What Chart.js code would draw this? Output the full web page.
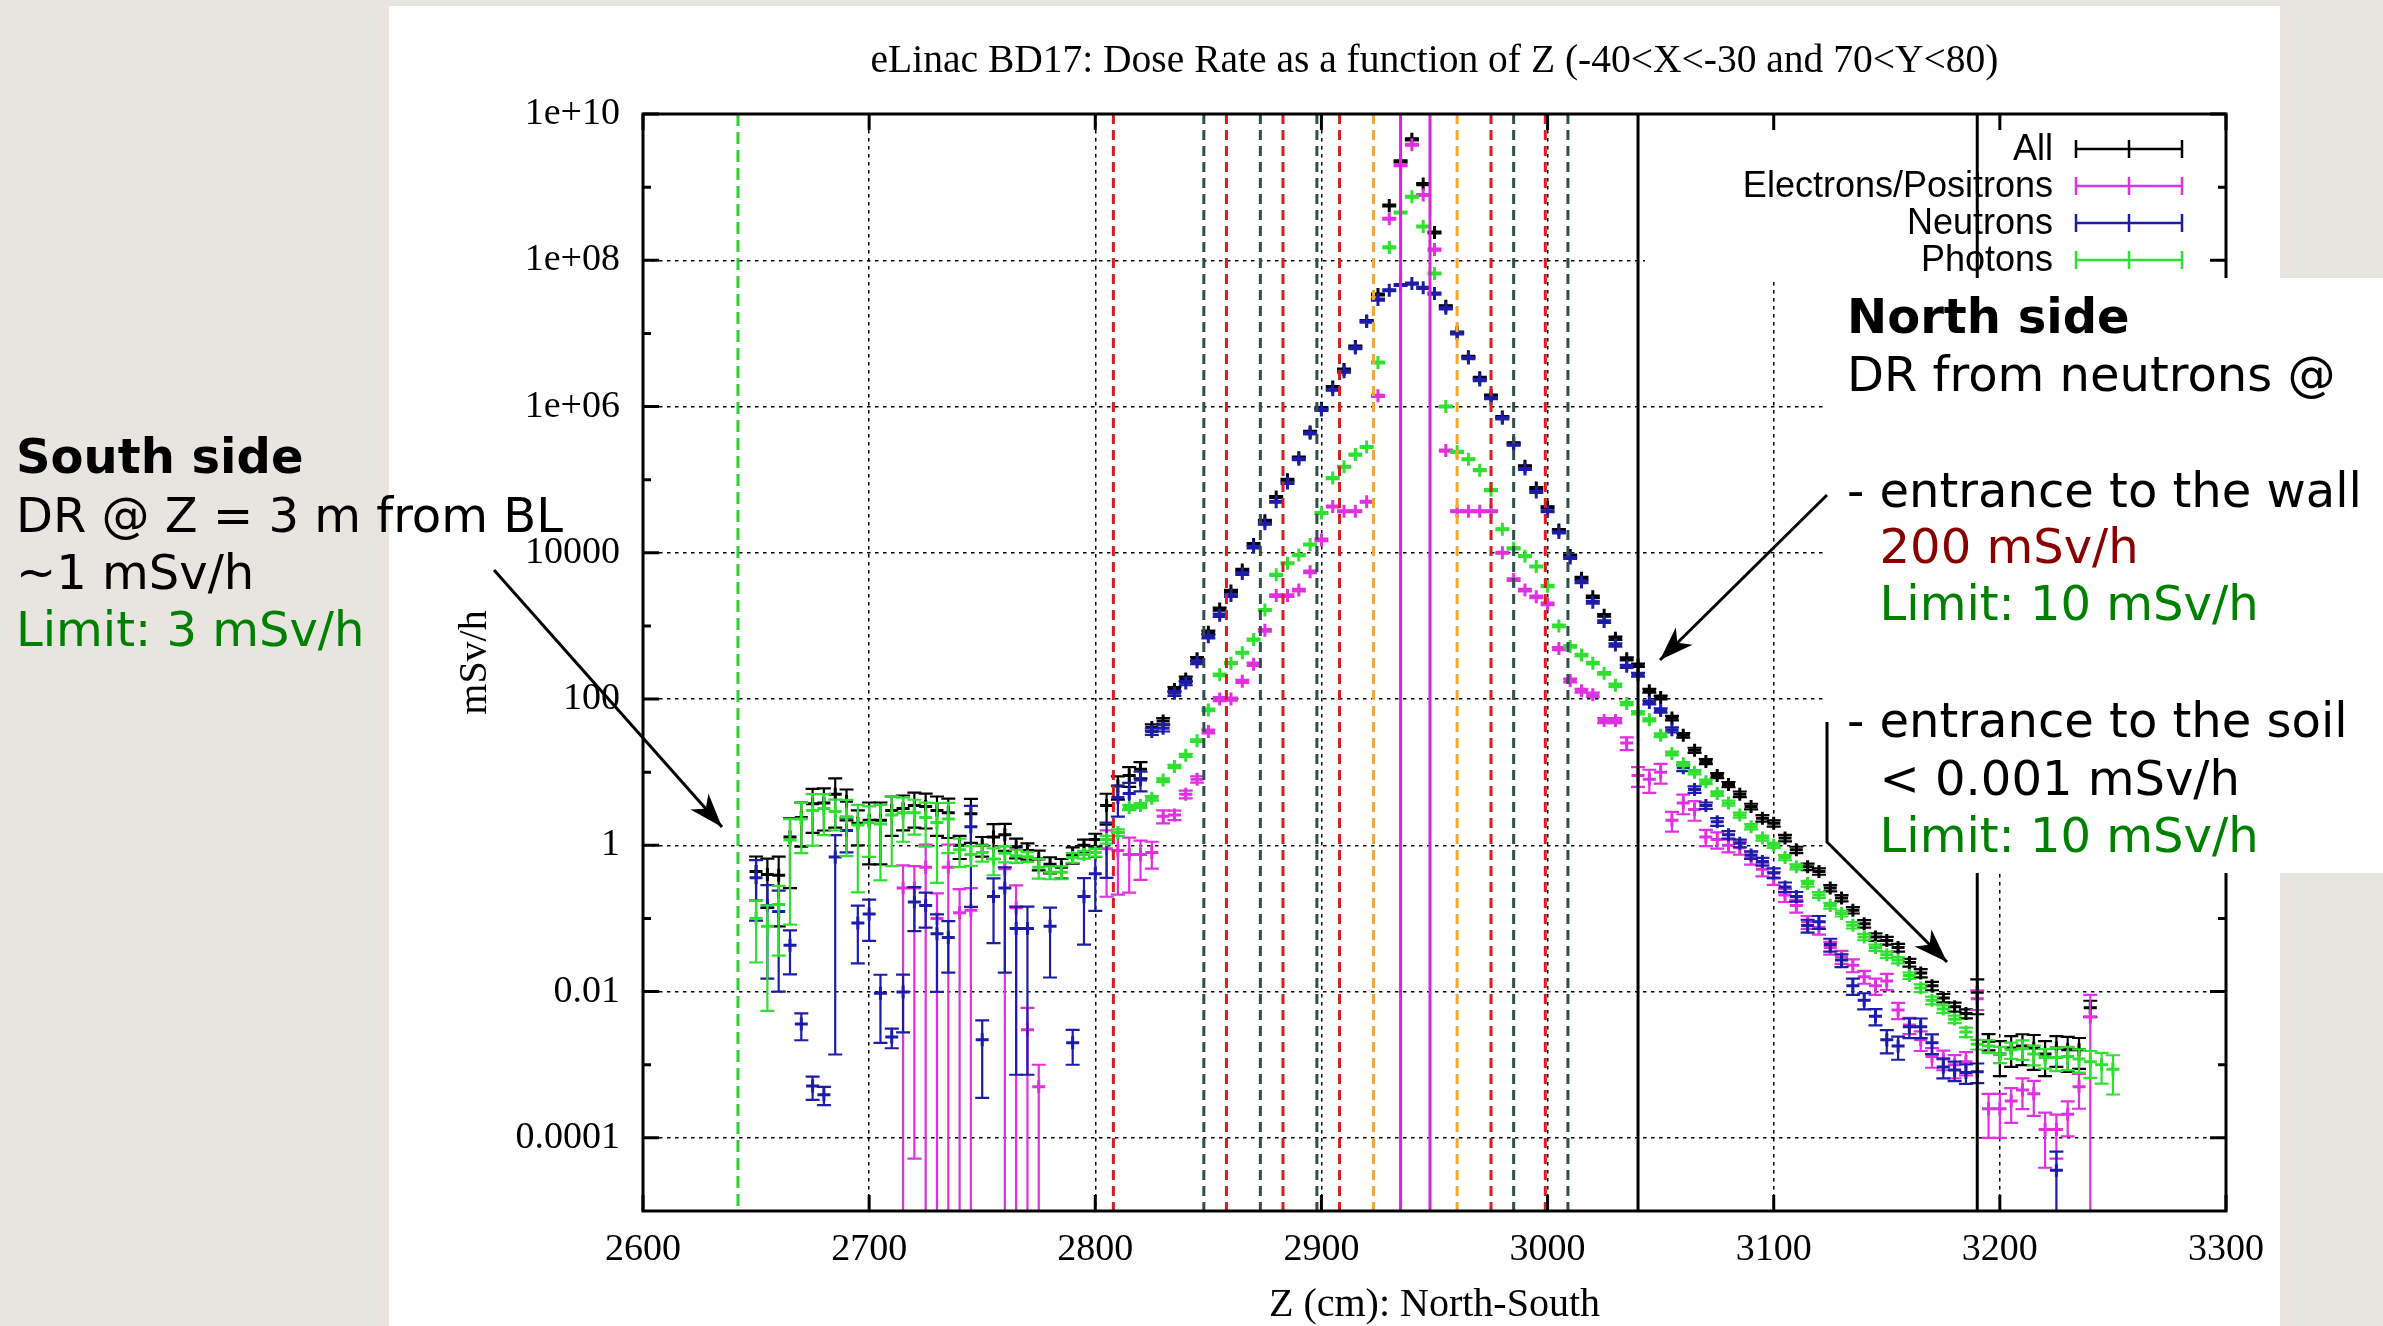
<!DOCTYPE html>
<html lang="en">
<head>
<meta charset="UTF-8">
<title>eLinac BD17 dose rate vs Z</title>
<script src="https://cdn.jsdelivr.net/npm/chart.js"></script>
<style>
  html, body { margin: 0; padding: 0; background: #e8e4df; }
  canvas { display: block; }
</style>
</head>
<body>
<canvas id="chartCanvas" width="2383" height="1326"></canvas>
<script>
// Z bin centres (cm), 5 cm bins
const zBins = [
  2650, 2655, 2660, 2665, 2670, 2675, 2680, 2685, 2690, 2695,
  2700, 2705, 2710, 2715, 2720, 2725, 2730, 2735, 2740, 2745,
  2750, 2755, 2760, 2765, 2770, 2775, 2780, 2785, 2790, 2795,
  2800, 2805, 2810, 2815, 2820, 2825, 2830, 2835, 2840, 2845,
  2850, 2855, 2860, 2865, 2870, 2875, 2880, 2885, 2890, 2895,
  2900, 2905, 2910, 2915, 2920, 2925, 2930, 2935, 2940, 2945,
  2950, 2955, 2960, 2965, 2970, 2975, 2980, 2985, 2990, 2995,
  3000, 3005, 3010, 3015, 3020, 3025, 3030, 3035, 3040, 3045,
  3050, 3055, 3060, 3065, 3070, 3075, 3080, 3085, 3090, 3095,
  3100, 3105, 3110, 3115, 3120, 3125, 3130, 3135, 3140, 3145,
  3150, 3155, 3160, 3165, 3170, 3175, 3180, 3185, 3190, 3195,
  3200, 3205, 3210, 3215, 3220, 3225, 3230, 3235, 3240, 3245,
  3250
];

// dose rate (mSv/h) and relative error per bin
const allDose = [
  0.44, 0.40, 0.39, 1.3, 2.4, 3.7, 3.8, 5.0, 4.0, 2.0,
  2.2, 2.2, 3.0, 3.2, 3.5, 3.4, 3.0, 2.8, 1.0, 2.7,
  1.0, 1.3, 1.4, 0.95, 0.85, 0.65, 0.55, 0.5, 0.75, 1.0,
  1.2, 3.5, 6.5, 9, 11, 41, 50, 135, 188, 355,
  820, 1700, 3000, 5800, 1.3e4, 2.75e4, 5.8e4, 1.0e5, 2.0e5, 4.5e5,
  9.5e5, 1.85e6, 3.2e6, 6.6e6, 1.48e7, 3.4e7, 5.6e8, 2.25e9, 4.5e9, 1.1e9,
  2.4e8, 2.35e7, 1.03e7, 4.8e6, 2.47e6, 1.41e6, 7.2e5, 3.15e5, 1.52e5, 7.7e4,
  4.2e4, 2.05e4, 9.2e3, 4.5e3, 2.5e3, 1.4e3, 680, 355, 290, 130,
  105, 55, 32, 20, 14, 9, 6.8, 5.0, 3.4, 2.35,
  2.0, 1.26, 0.87, 0.51, 0.44, 0.26, 0.19, 0.13, 0.085, 0.056,
  0.05, 0.04, 0.025, 0.018, 0.012, 0.0082, 0.0062, 0.005, 0.0098, 0.0021,
  0.0014, 0.0017, 0.0018, 0.0017, 0.0014, 0.0017, 0.0016, 0.0016, 0.006, null,
  null
];
const allErr = [
  0.6, 0.65, 0.8, 0.8, 0.6, 0.6, 0.58, 0.65, 0.45, 0.5,
  0.75, 0.75, 0.55, 0.5, 0.5, 0.5, 0.55, 0.55, 0.35, 0.6,
  0.3, 0.5, 0.4, 0.3, 0.25, 0.3, 0.25, 0.3, 0.25, 0.2,
  0.2, 0.45, 0.35, 0.3, 0.25, 0.1, 0.1, 0.08, 0.08, 0.06,
  0.05, 0.05, 0.04, 0.04, 0.04, 0.03, 0.03, 0.03, 0.03, 0.03,
  0.03, 0.03, 0.03, 0.03, 0.03, 0.03, 0.03, 0.03, 0.03, 0.03,
  0.03, 0.03, 0.03, 0.03, 0.03, 0.03, 0.03, 0.03, 0.03, 0.03,
  0.03, 0.03, 0.03, 0.04, 0.04, 0.04, 0.05, 0.05, 0.05, 0.06,
  0.06, 0.07, 0.07, 0.08, 0.08, 0.08, 0.08, 0.09, 0.09, 0.1,
  0.1, 0.1, 0.1, 0.1, 0.1, 0.1, 0.1, 0.1, 0.12, 0.12,
  0.12, 0.12, 0.12, 0.13, 0.13, 0.13, 0.14, 0.14, 0.5, 0.25,
  0.5, 0.45, 0.45, 0.5, 0.5, 0.45, 0.5, 0.45, 0.25, null,
  null
];

const eleDose = [
  null, null, null, null, null, null, null, null, null, null,
  null, null, null, 0.26, 0.26, 0.5, 0.1, 0.5, 0.12, 0.13,
  null, null, 0.48, 0.14, 0.003, 5e-4, null, null, null, null,
  null, 0.9, 0.85, 0.75, 0.75, 0.8, 2.5, 2.6, 5.0, 8.0,
  36, 100, 100, 175, 300, 870, 2600, 2600, 3100, 5500,
  1.5e4, 4.3e4, 3.7e4, 3.7e4, 5.0e4, 1.4e6, 3.7e8, 2.0e9, 3.8e9, 7.8e8,
  1.4e8, 2.5e5, 3.7e4, 3.7e4, 3.7e4, 3.7e4, 1.0e4, 4300, 3100, 2500,
  2000, 490, 180, 130, 115, 51, 51, 25, 9, 8,
  10, 2.2, 3.8, 3.1, 1.3, 1.2, 1.0, 0.93, 0.68, 0.47,
  0.36, 0.21, 0.15, 0.09, 0.075, 0.04, 0.03, 0.023, 0.016, 0.012,
  0.014, 0.0056, 0.0035, 0.0022, 0.0013, 0.0012, 0.001, 0.0011, 0.008, 2.5e-4,
  2.5e-4, 3.2e-4, 4.5e-4, 4e-4, 1.3e-4, 1.3e-4, 2.1e-4, 5e-4, 0.0045, null,
  null
];
const eleErr = [
  null, null, null, null, null, null, null, null, null, null,
  null, null, null, 1.05, 0.9998, 1.05, 1.2, 1.05, 1.1, 1.0,
  null, null, 1.02, 1.02, 1.0, 1.0, null, null, null, null,
  null, 0.78, 0.75, 0.7, 0.55, 0.4, 0.2, 0.15, 0.12, 0.1,
  0.06, 0.06, 0.05, 0.05, 0.05, 0.04, 0.04, 0.04, 0.04, 0.04,
  0.04, 0.03, 0.03, 0.03, 0.03, 0.03, 0.03, 0.03, 0.03, 0.03,
  0.03, 0.03, 0.03, 0.03, 0.03, 0.03, 0.03, 0.04, 0.04, 0.04,
  0.04, 0.05, 0.06, 0.06, 0.07, 0.08, 0.08, 0.2, 0.3, 0.35,
  0.3, 0.3, 0.3, 0.3, 0.25, 0.25, 0.2, 0.2, 0.2, 0.2,
  0.2, 0.2, 0.2, 0.2, 0.2, 0.2, 0.2, 0.2, 0.2, 0.25,
  0.25, 0.25, 0.25, 0.3, 0.3, 0.3, 0.35, 0.35, 0.3, 0.6,
  0.6, 0.5, 0.45, 0.5, 0.7, 0.6, 0.5, 0.5, 1.0, null,
  null
];

const neuDose = [
  0.36, 0.15, 0.125, 0.043, 0.0036, 5.1e-4, 3.9e-4, 0.69, 1.6, 0.087,
  0.115, 0.0095, 0.0024, 0.0099, 0.168, 0.15, 0.062, 0.055, null, 1.8,
  0.0022, 0.2, 0.26, 0.073, 0.073, null, 0.078, null, 0.002, 0.2,
  0.41, 1.2, 4.5, 5.1, 7.8, 36, 40, 120, 166, 320,
  710, 1400, 2600, 5200, 1.2e4, 2.5e4, 5.0e4, 9.0e4, 1.9e5, 4.3e5,
  9.0e5, 1.7e6, 3.0e6, 6.3e6, 1.45e7, 2.9e7, 3.9e7, 4.6e7, 4.8e7, 4.2e7,
  3.5e7, 2.2e7, 1.0e7, 4.6e6, 2.3e6, 1.3e6, 6.9e5, 3.0e5, 1.4e5, 6.8e4,
  3.7e4, 1.9e4, 8.5e3, 4.0e3, 2.1e3, 1150, 550, 280, 215, 90,
  70, 38, 11.5, 5.8, 3.5, 2.1, 1.4, 1.07, 0.74, 0.6,
  0.42, 0.27, 0.2, 0.08, 0.09, 0.044, 0.027, 0.012, 0.0076, 0.0046,
  0.0022, 0.0018, 0.0033, 0.0033, 0.002, 9.3e-4, 8.5e-4, 7.8e-4, 8e-4, null,
  null, null, null, null, null, 3.6e-5, null, null, null, null,
  null
];
const neuErr = [
  0.74, 0.9, 0.92, 0.6, 0.4, 0.35, 0.28, 0.998, 0.5, 0.72,
  0.57, 0.79, 0.3, 0.72, 0.6, 0.5, 0.84, 0.67, null, 0.92,
  0.84, 0.77, 0.93, 0.99, 0.99, null, 0.8, null, 0.5, 0.78,
  0.69, 0.7, 0.45, 0.4, 0.3, 0.1, 0.1, 0.08, 0.07, 0.06,
  0.05, 0.05, 0.04, 0.04, 0.04, 0.03, 0.03, 0.03, 0.03, 0.03,
  0.03, 0.03, 0.03, 0.03, 0.03, 0.03, 0.03, 0.03, 0.03, 0.03,
  0.03, 0.03, 0.03, 0.03, 0.03, 0.03, 0.03, 0.03, 0.03, 0.03,
  0.03, 0.03, 0.03, 0.04, 0.04, 0.04, 0.05, 0.05, 0.06, 0.06,
  0.07, 0.08, 0.1, 0.1, 0.1, 0.12, 0.12, 0.12, 0.12, 0.12,
  0.15, 0.15, 0.15, 0.2, 0.2, 0.2, 0.2, 0.25, 0.25, 0.25,
  0.35, 0.35, 0.3, 0.3, 0.3, 0.3, 0.3, 0.3, 0.3, null,
  null, null, null, null, null, 0.8, null, null, null, null,
  null
];

const phoDose = [
  0.1, 0.078, 0.155, 1.18, 2.3, 3.0, 3.2, 2.9, 2.45, 1.9,
  2.05, 1.95, 2.6, 2.8, 2.8, 2.4, 2.05, 2.3, 0.87, 0.75,
  0.8, 0.65, 0.78, 0.72, 0.7, 0.5, 0.43, 0.43, 0.68, 0.75,
  0.8, 1.2, 1.5, 3.3, 3.5, 4.4, 7.8, 12, 17, 27,
  71, 215, 310, 430, 650, 1650, 5000, 7200, 9300, 1.3e4,
  3.5e4, 1.05e5, 1.5e5, 2.2e5, 2.8e5, 4.0e6, 1.5e8, 4.5e8, 7.4e8, 2.9e8,
  6.6e7, 1.0e6, 2.4e5, 1.9e5, 1.35e5, 7.2e4, 2.1e4, 1.15e4, 9.0e3, 6.5e3,
  3500, 1000, 525, 400, 310, 225, 155, 87, 65, 52,
  32, 18, 13, 10, 7.4, 5.1, 3.8, 2.6, 1.8, 1.26,
  1.0, 0.68, 0.51, 0.30, 0.21, 0.15, 0.117, 0.081, 0.056, 0.04,
  0.032, 0.027, 0.0166, 0.0112, 0.0076, 0.0058, 0.0042, 0.0028, 0.0019, 0.0018,
  0.0014, 0.0016, 0.00166, 0.0014, 0.00126, 0.00126, 0.0013, 0.0012, 0.0011, 0.001,
  0.00087
];
const phoErr = [
  0.75, 0.93, 0.8, 0.93, 0.66, 0.67, 0.57, 0.45, 0.71, 0.88,
  0.66, 0.83, 0.8, 0.6, 0.5, 0.6, 0.85, 0.66, 0.42, 0.3,
  0.25, 0.4, 0.25, 0.2, 0.15, 0.3, 0.2, 0.2, 0.15, 0.12,
  0.12, 0.12, 0.1, 0.08, 0.08, 0.07, 0.06, 0.05, 0.05, 0.04,
  0.04, 0.04, 0.03, 0.03, 0.03, 0.03, 0.03, 0.03, 0.03, 0.03,
  0.03, 0.03, 0.03, 0.03, 0.03, 0.03, 0.03, 0.03, 0.03, 0.03,
  0.03, 0.03, 0.03, 0.03, 0.03, 0.03, 0.03, 0.03, 0.03, 0.03,
  0.03, 0.04, 0.04, 0.04, 0.04, 0.04, 0.05, 0.05, 0.05, 0.05,
  0.06, 0.06, 0.06, 0.07, 0.07, 0.07, 0.08, 0.08, 0.08, 0.08,
  0.08, 0.08, 0.08, 0.09, 0.09, 0.09, 0.09, 0.1, 0.1, 0.1,
  0.1, 0.1, 0.1, 0.12, 0.12, 0.12, 0.12, 0.15, 0.15, 0.2,
  0.25, 0.25, 0.3, 0.3, 0.3, 0.35, 0.35, 0.35, 0.4, 0.45,
  0.55
];

// axis ticks
const yTickValues = [1e10, 1e8, 1e6, 1e4, 1e2, 1, 1e-2, 1e-4];
const yTickLabels = ['1e+10', '1e+08', '1e+06', '10000', '100', '1', '0.01', '0.0001'];
const yMinorTicks = [1e9, 1e7, 1e5, 1e3, 1e1, 1e-1, 1e-3];

// region boundaries along Z (cm)
const greenLineZ = [2642];
const redLineZ = [2808, 2858, 2883, 2908, 2975, 2999];
const slateLineZ = [2848, 2873, 2898, 2985, 3009];
const orangeLineZ = [2923, 2960];
const magentaLineZ = [2935, 2948];
const blackLineZ = [3040, 3190];

const seriesLabels = ['All', 'Electrons/Positrons', 'Neutrons', 'Photons'];
const seriesColors = ['#000000', '#e030e0', '#1c1ca8', '#30e030'];

const serif = 'Liberation Serif';
const noteFont = '"DejaVu Sans", sans-serif';

function points(values, errs) {
  return zBins.map((z, i) => ({ x: z, y: values[i], e: errs[i] }))
    .filter(p => p.y !== null);
}

const series = [[allDose, allErr], [eleDose, eleErr], [neuDose, neuErr], [phoDose, phoErr]];
const datasets = series.map(([v, e], i) => ({
  label: seriesLabels[i],
  data: points(v, e),
  borderColor: seriesColors[i],
  backgroundColor: seriesColors[i],
  pointStyle: 'cross',
  pointRadius: 6.5,
  pointHoverRadius: 6.5,
  pointBorderWidth: 3,
  order: 4 - i   // photons end up on top
}));

const pageBackground = {
  id: 'pageBackground',
  beforeDraw(chart) {
    const ctx = chart.ctx;
    ctx.save();
    ctx.fillStyle = '#e8e4df';
    ctx.fillRect(0, 0, chart.width, chart.height);
    ctx.fillStyle = '#ffffff';
    ctx.fillRect(389, 6, 2280 - 389, chart.height - 6);
    ctx.restore();
  }
};

const errorBars = {
  id: 'errorBars',
  afterDatasetDraw(chart, args) {
    const { ctx, chartArea: a } = chart;
    const y = chart.scales.y;
    const ds = chart.data.datasets[args.index];
    ctx.save();
    ctx.beginPath();
    ctx.rect(a.left, a.top, a.right - a.left, a.bottom - a.top);
    ctx.clip();
    ctx.strokeStyle = ds.borderColor;
    ctx.lineWidth = 2.2;
    args.meta.data.forEach((pt, i) => {
      const d = ds.data[i];
      const top = y.getPixelForValue(d.y * (1 + d.e));
      const low = d.y * (1 - d.e);
      const bottom = low > 0 ? y.getPixelForValue(low) : a.bottom + 4;
      ctx.beginPath();
      ctx.moveTo(pt.x, top);
      ctx.lineTo(pt.x, bottom);
      ctx.moveTo(pt.x - 7, top);
      ctx.lineTo(pt.x + 7, top);
      if (low > 0) {
        ctx.moveTo(pt.x - 7, bottom);
        ctx.lineTo(pt.x + 7, bottom);
      }
      ctx.stroke();
    });
    ctx.restore();
  }
};

function vLines(chart, zs, color, width, dash) {
  const { ctx, chartArea: a } = chart;
  const x = chart.scales.x;
  ctx.save();
  ctx.strokeStyle = color;
  ctx.lineWidth = width;
  ctx.setLineDash(dash);
  zs.forEach(z => {
    const px = x.getPixelForValue(z);
    ctx.beginPath();
    ctx.moveTo(px, a.top);
    ctx.lineTo(px, a.bottom);
    ctx.stroke();
  });
  ctx.restore();
}

const overlays = {
  id: 'overlays',
  afterDatasetsDraw(chart) {
    const { ctx, chartArea: a } = chart;
    const x = chart.scales.x, y = chart.scales.y;

    vLines(chart, greenLineZ, '#2ed12e', 3, [12, 6]);
    vLines(chart, redLineZ, '#d42020', 3, [10, 6]);
    vLines(chart, slateLineZ, '#2f4f4f', 3, [10, 6]);
    vLines(chart, orangeLineZ, '#f0a830', 3, [10, 6]);
    vLines(chart, magentaLineZ, '#dd22dd', 3, []);

    // key, opaque
    ctx.save();
    ctx.fillStyle = '#ffffff';
    ctx.fillRect(1645, a.top, a.right - 1645, 278 - a.top);
    ctx.font = `36px "Liberation Sans"`;
    ctx.textAlign = 'right';
    ctx.textBaseline = 'middle';
    chart.data.datasets.forEach((ds, i) => {
      const ry = 149 + i * 37;
      ctx.fillStyle = '#000';
      ctx.fillText(ds.label, 2053, ry + 1);
      ctx.strokeStyle = ds.borderColor;
      ctx.lineWidth = 2.5;
      ctx.beginPath();
      ctx.moveTo(2076, ry); ctx.lineTo(2182, ry);
      ctx.moveTo(2076, ry - 9); ctx.lineTo(2076, ry + 9);
      ctx.moveTo(2182, ry - 9); ctx.lineTo(2182, ry + 9);
      ctx.moveTo(2129, ry - 9); ctx.lineTo(2129, ry + 9);
      ctx.stroke();
    });
    ctx.restore();

    vLines(chart, blackLineZ, '#000000', 3, []);

    // border with inward ticks on all sides
    ctx.save();
    ctx.strokeStyle = '#000';
    ctx.lineWidth = 3;
    ctx.strokeRect(a.left, a.top, a.right - a.left, a.bottom - a.top);
    ctx.beginPath();
    x.ticks.forEach(t => {
      const px = x.getPixelForValue(t.value);
      ctx.moveTo(px, a.bottom); ctx.lineTo(px, a.bottom - 16);
      ctx.moveTo(px, a.top); ctx.lineTo(px, a.top + 16);
    });
    yTickValues.forEach(v => {
      const py = y.getPixelForValue(v);
      ctx.moveTo(a.left, py); ctx.lineTo(a.left + 16, py);
      ctx.moveTo(a.right, py); ctx.lineTo(a.right - 16, py);
    });
    yMinorTicks.forEach(v => {
      const py = y.getPixelForValue(v);
      ctx.moveTo(a.left, py); ctx.lineTo(a.left + 8, py);
      ctx.moveTo(a.right, py); ctx.lineTo(a.right - 8, py);
    });
    ctx.stroke();
    ctx.restore();
  }
};

function arrow(ctx, pts) {
  ctx.beginPath();
  ctx.moveTo(pts[0][0], pts[0][1]);
  pts.slice(1).forEach(p => ctx.lineTo(p[0], p[1]));
  ctx.stroke();
  const [x1, y1] = pts[pts.length - 2];
  const [x2, y2] = pts[pts.length - 1];
  const ang = Math.atan2(y2 - y1, x2 - x1);
  const c = Math.cos(ang), s = Math.sin(ang);
  const len = 34, half = 12;
  ctx.beginPath();
  ctx.moveTo(x2, y2);
  ctx.lineTo(x2 - len * c + half * s, y2 - len * s - half * c);
  ctx.lineTo(x2 - 0.72 * len * c, y2 - 0.72 * len * s);
  ctx.lineTo(x2 - len * c - half * s, y2 - len * s + half * c);
  ctx.closePath();
  ctx.fill();
}

const notes = {
  id: 'notes',
  afterDraw(chart) {
    const ctx = chart.ctx;
    ctx.save();
    // white box for the north side notes
    ctx.fillStyle = '#ffffff';
    ctx.fillRect(1827, 278, chart.width - 1827, 873 - 278);

    ctx.textBaseline = 'middle';
    ctx.textAlign = 'left';
    const write = (text, x, y, color, bold) => {
      ctx.font = `${bold ? 'bold ' : ''}48px ${noteFont}`;
      ctx.fillStyle = color;
      ctx.fillText(text, x, y);
    };
    const black = '#000000', green = '#008000', darkRed = '#880000';

    write('South side', 16, 461, black, true);
    write('DR @ Z = 3 m from BL', 16, 520, black);
    write('~1 mSv/h', 16, 577, black);
    write('Limit: 3 mSv/h', 16, 634, green);

    ctx.font = `48px ${noteFont}`;
    const indent = 1847 + ctx.measureText('- ').width;
    write('North side', 1847, 321, black, true);
    write('DR from neutrons @', 1847, 379, black);
    write('- entrance to the wall', 1847, 495, black);
    write('200 mSv/h', indent, 551, darkRed);
    write('Limit: 10 mSv/h', indent, 608, green);
    write('- entrance to the soil', 1847, 725, black);
    write('< 0.001 mSv/h', indent, 783, black);
    write('Limit: 10 mSv/h', indent, 840, green);

    ctx.strokeStyle = '#000';
    ctx.fillStyle = '#000';
    ctx.lineWidth = 3;
    arrow(ctx, [[494, 570], [722, 827]]);
    arrow(ctx, [[1827, 495], [1660, 660]]);
    arrow(ctx, [[1827, 722], [1827, 842], [1947, 962]]);
    ctx.restore();
  }
};

const gridDash = [3.5, 4.5];

new Chart(document.getElementById('chartCanvas').getContext('2d'), {
  type: 'scatter',
  data: { datasets },
  options: {
    responsive: false,
    animation: false,
    devicePixelRatio: 1,
    layout: { padding: { left: 451, right: 157, top: 0, bottom: 0 } },
    plugins: {
      legend: { display: false },
      tooltip: { enabled: false },
      title: {
        display: true,
        fullSize: false,
        text: 'eLinac BD17: Dose Rate as a function of Z (-40<X<-30 and 70<Y<80)',
        color: '#000',
        font: { family: serif, size: 39.5, weight: 'normal', lineHeight: 1.2 },
        padding: { top: 38, bottom: 28.6 }
      }
    },
    scales: {
      x: {
        type: 'linear',
        min: 2600,
        max: 3300,
        afterFit: s => { s.height = 115; },
        ticks: {
          stepSize: 100,
          autoSkip: false,
          maxRotation: 0,
          padding: 16,
          color: '#000',
          font: { family: serif, size: 38 },
          callback: v => String(v)
        },
        grid: { color: '#000', lineWidth: 1.5, drawTicks: false },
        border: { display: false, dash: gridDash },
        title: {
          display: true,
          text: 'Z (cm): North-South',
          color: '#000',
          font: { family: serif, size: 40, lineHeight: 1.05 },
          padding: 0
        }
      },
      y: {
        type: 'logarithmic',
        min: 1e-5,
        max: 1e10,
        afterFit: s => { s.width = 192; },
        afterBuildTicks: s => { s.ticks = yTickValues.map(value => ({ value })); },
        ticks: {
          autoSkip: false,
          padding: 23,
          color: '#000',
          font: { family: serif, size: 38 },
          callback: v => yTickLabels[yTickValues.indexOf(v)]
        },
        grid: { color: '#000', lineWidth: 1.5, drawTicks: false },
        border: { display: false, dash: gridDash },
        title: {
          display: true,
          text: 'mSv/h',
          color: '#000',
          font: { family: serif, size: 40, lineHeight: 1.2 },
          padding: 0
        }
      }
    }
  },
  plugins: [pageBackground, errorBars, overlays, notes]
});
</script>
</body>
</html>
